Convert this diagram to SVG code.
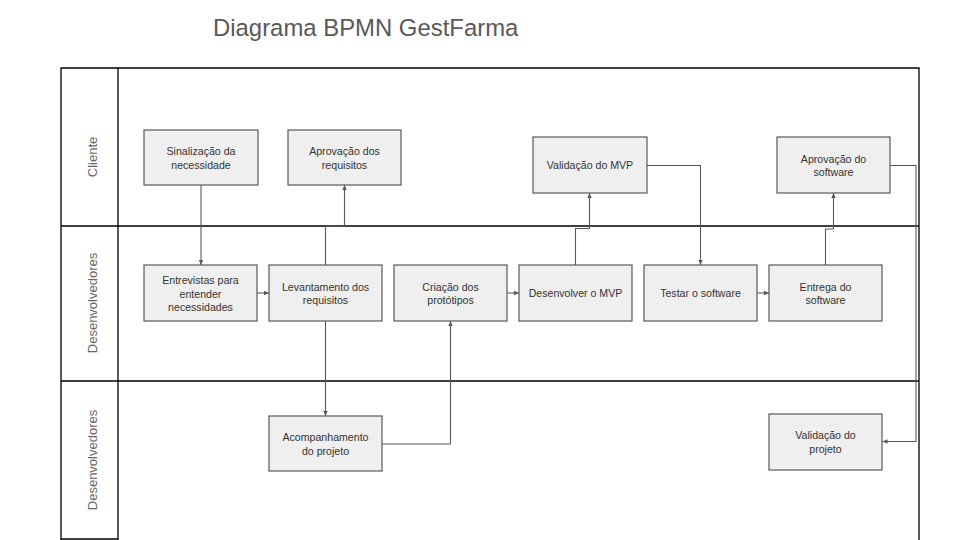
<svg xmlns="http://www.w3.org/2000/svg" width="960" height="540" viewBox="0 0 960 540">
<defs>
<marker id="ah" markerWidth="6" markerHeight="6" refX="5" refY="3" orient="auto" markerUnits="userSpaceOnUse">
<path d="M0,0.8 L5,3 L0,5.2 Z" fill="#595959"/>
</marker>
<style>
.pool{fill:none;stroke:#000;stroke-width:1.3}
.box{fill:#efefef;stroke:#595959;stroke-width:1.2}
.t{font-family:"Liberation Sans",Arial,sans-serif;font-size:10.6px;fill:#333;text-anchor:middle}
.lane{font-family:"Liberation Sans",Arial,sans-serif;font-size:13px;fill:#666;text-anchor:middle}
.c{fill:none;stroke:#595959;stroke-width:1.1;marker-end:url(#ah)}
</style>
</defs>
<rect width="960" height="540" fill="#fff"/>
<text x="213" y="36" font-family="'Liberation Sans',Arial,sans-serif" font-size="23.9" fill="#595959">Diagrama BPMN GestFarma</text>
<g id="pool">
<path class="pool" d="M61,540 V68 H919 V540 M118,68 V540 M61,226 H919 M61,381 H919 M61,539 H118"/>
<text class="lane" transform="translate(97,157) rotate(-90)">Cliente</text>
<text class="lane" transform="translate(97,303) rotate(-90)">Desenvolvedores</text>
<text class="lane" transform="translate(97,460) rotate(-90)">Desenvolvedores</text>
</g>
<g id="connectors">
<path class="c" d="M201,185 V265"/>
<path class="c" d="M257,293 H269"/>
<path class="c" d="M325.5,265 V226 H344.5 V185"/>
<path class="c" d="M325.5,321 V416"/>
<path class="c" d="M382,444 H450.5 V321"/>
<path class="c" d="M507,293 H519"/>
<path class="c" d="M575.5,265 V228.5 H589.5 V193"/>
<path class="c" d="M647,165.5 H700.5 V265"/>
<path class="c" d="M757,293 H769"/>
<path class="c" d="M825.5,265 V229 H833.5 V193"/>
<path class="c" d="M890,165.5 H916 V441.5 H882.5"/>
</g>
<g id="sinalizacao"><rect class="box" x="144" y="130" width="114" height="55"/><text class="t" x="201" y="155">Sinalização da</text><text class="t" x="201" y="168.5">necessidade</text></g>
<g id="aprovacao-requisitos"><rect class="box" x="288" y="130" width="113" height="55"/><text class="t" x="344.5" y="155">Aprovação dos</text><text class="t" x="344.5" y="168.5">requisitos</text></g>
<g id="validacao-mvp"><rect class="box" x="533" y="137" width="114" height="56"/><text class="t" x="590" y="169">Validação do MVP</text></g>
<g id="aprovacao-software"><rect class="box" x="777" y="137" width="113" height="56"/><text class="t" x="833.5" y="162.5">Aprovação do</text><text class="t" x="833.5" y="176">software</text></g>
<g id="entrevistas"><rect class="box" x="144" y="265" width="113" height="56"/><text class="t" x="200.5" y="284">Entrevistas para</text><text class="t" x="200.5" y="297.5">entender</text><text class="t" x="200.5" y="311">necessidades</text></g>
<g id="levantamento"><rect class="box" x="269" y="265" width="113" height="56"/><text class="t" x="325.5" y="290.5">Levantamento dos</text><text class="t" x="325.5" y="304">requisitos</text></g>
<g id="criacao"><rect class="box" x="394" y="265" width="113" height="56"/><text class="t" x="450.5" y="290.5">Criação dos</text><text class="t" x="450.5" y="304">protótipos</text></g>
<g id="desenvolver"><rect class="box" x="519" y="265" width="113" height="56"/><text class="t" x="575.5" y="297">Desenvolver o MVP</text></g>
<g id="testar"><rect class="box" x="644" y="265" width="113" height="56"/><text class="t" x="700.5" y="297">Testar o software</text></g>
<g id="entrega"><rect class="box" x="769" y="265" width="113" height="56"/><text class="t" x="825.5" y="290.5">Entrega do</text><text class="t" x="825.5" y="304">software</text></g>
<g id="acompanhamento"><rect class="box" x="269" y="416" width="113" height="55"/><text class="t" x="325.5" y="441">Acompanhamento</text><text class="t" x="325.5" y="454.5">do projeto</text></g>
<g id="validacao-projeto"><rect class="box" x="769" y="414" width="113" height="56"/><text class="t" x="825.5" y="439">Validação do</text><text class="t" x="825.5" y="452.5">projeto</text></g>
</svg>
